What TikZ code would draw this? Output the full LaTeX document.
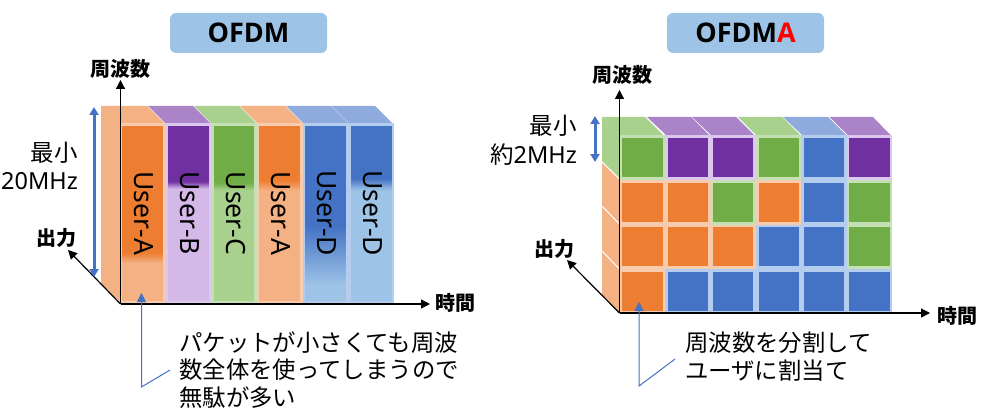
\documentclass[tikz,border=0pt]{standalone}
\usepackage{graphicx}
\usepackage{fontspec}
\setmainfont{Noto Sans}
\newfontfamily\jpfont{Noto Sans CJK JP}
\newfontfamily\titlefont{Open Sans}
\usetikzlibrary{arrows.meta}

\definecolor{orangedark}{HTML}{ED7D31}
\definecolor{orangelight}{HTML}{F4B183}
\definecolor{orangeedge}{HTML}{F8CBAD}
\definecolor{purpledark}{HTML}{7030A0}
\definecolor{purpletop}{HTML}{AB83C8}
\definecolor{purplelight}{HTML}{D4B8E8}
\definecolor{purpleedge}{HTML}{DCC8EC}
\definecolor{greendark}{HTML}{70AD47}
\definecolor{greenlight}{HTML}{A9D18E}
\definecolor{greenedge}{HTML}{C5E0B4}
\definecolor{bluedark}{HTML}{4472C4}
\definecolor{bluetop}{HTML}{8FAADC}
\definecolor{bluelight}{HTML}{9DC3E6}
\definecolor{blueedge}{HTML}{B4CDEE}

% the column is mapped on 25bp..75bp of the shading
\pgfdeclareverticalshading{fadeUserA}{100bp}{color(0bp)=(orangelight); color(36bp)=(orangelight); color(38.8bp)=(orangedark); color(100bp)=(orangedark)}
\pgfdeclareverticalshading{fadeUserAb}{100bp}{color(0bp)=(orangelight); color(56.5bp)=(orangelight); color(59.3bp)=(orangedark); color(100bp)=(orangedark)}
\pgfdeclareverticalshading{fadeUserB}{100bp}{color(0bp)=(purplelight); color(57bp)=(purplelight); color(59bp)=(purpledark); color(100bp)=(purpledark)}
\pgfdeclareverticalshading{fadeUserC}{100bp}{color(0bp)=(greenlight); color(56.5bp)=(greenlight); color(58.7bp)=(greendark); color(100bp)=(greendark)}
\pgfdeclareverticalshading{fadeUserD}{100bp}{color(0bp)=(bluelight); color(29.8bp)=(bluelight); color(46.6bp)=(bluedark); color(100bp)=(bluedark)}
\pgfdeclareverticalshading{fadeUserDb}{100bp}{color(0bp)=(bluelight); color(56.5bp)=(bluelight); color(59.8bp)=(bluedark); color(100bp)=(bluedark)}

\newcommand{\usertext}[1]{\hspace{3pt}\rotatebox{-90}{#1}}

\tikzset{
	x=1pt,y=-1pt,
	titlebox/.style={fill=bluelight,rounded corners=6pt,minimum width=157pt,minimum height=40pt,inner sep=0pt,font=\fontsize{27}{30}\selectfont\titlefont\bfseries},
	usercol/.style={anchor=north west,minimum width=43.3pt,minimum height=177pt,inner sep=0pt,line width=2.5pt,shade,shading angle=0,font=\fontsize{26.5}{30}\selectfont},
	cellbox/.style={anchor=north west,minimum width=42.8pt,minimum height=41.9pt,inner sep=0pt,line width=2.6pt,draw},
	orangecell/.style={cellbox,fill=orangedark,draw=orangeedge},
	purplecell/.style={cellbox,fill=purpledark,draw=purpleedge},
	greencell/.style={cellbox,fill=greendark,draw=greenedge},
	bluecell/.style={cellbox,fill=bluedark,draw=blueedge},
	axislabel/.style={inner sep=0pt,font=\fontsize{20}{24}\selectfont\jpfont\bfseries},
	sizelabel/.style={inner sep=0pt,anchor=east,font=\fontsize{23.5}{26}\selectfont},
	notelabel/.style={inner sep=0pt,anchor=west,align=left,font=\fontsize{23.4}{27.5}\selectfont\jpfont},
	axisline/.style={line width=1.2pt,-{Triangle[length=9pt,width=9pt]}},
	sizearrow/.style={draw=bluedark,line width=3pt,{Triangle[length=8pt,width=9pt]}-{Triangle[length=8pt,width=9pt]}},
	noteline/.style={draw=bluedark,line width=1pt,-{Triangle[length=9pt,width=9pt]}}
}

\begin{document}
\begin{tikzpicture}
	\useasboundingbox (0,0) rectangle (982,417);
	% titles
	\node[titlebox] (titleL) at (248.5,33) {OFDM};
	\node[titlebox] (titleR) at (745.5,33) {OFDM\textcolor{red}{A}};

	% OFDM: side and top faces
	\fill[orangelight] (101,106) -- (120,124) -- (120,302) -- (101,284) -- cycle;
	\fill[orangelight] (101,106) -- (147,106) -- (165,124) -- (120,124) -- cycle;
	\fill[purpletop] (148,106) -- (193,106) -- (211,124) -- (166,124) -- cycle;
	\fill[greenlight] (194,106) -- (239,106) -- (257,124) -- (212,124) -- cycle;
	\fill[orangelight] (240,106) -- (285,106) -- (303,124) -- (258,124) -- cycle;
	\fill[bluetop] (286,106) -- (331,106) -- (349,124) -- (304,124) -- cycle;
	\fill[bluetop] (331.5,106) -- (375,106) -- (393,124) -- (349.5,124) -- cycle;
	% OFDM: columns
	\node[usercol,shading=fadeUserA,draw=orangeedge] (colA) at (119.5,123.5) {\usertext{User-A}};
	\node[usercol,shading=fadeUserB,draw=purpleedge] (colB) at (165.3,123.5) {\usertext{User-B}};
	\node[usercol,shading=fadeUserC,draw=greenedge] (colC) at (211.1,123.5) {\usertext{User-C}};
	\node[usercol,shading=fadeUserAb,draw=orangeedge] (colAb) at (256.9,123.5) {\usertext{User-A}};
	\node[usercol,shading=fadeUserD,draw=blueedge] (colD) at (302.7,123.5) {\usertext{User-D}};
	\node[usercol,shading=fadeUserDb,draw=blueedge] (colDb) at (348.5,123.5) {\usertext{User-D}};
	% OFDM: axes
	\coordinate (originL) at (120.5,304);
	\coordinate (freqL) at (120.5,80);
	\coordinate (timeL) at (430,304);
	\coordinate (powerL) at (68,250);
	\draw[axisline] (originL) -- (freqL);
	\draw[axisline] (originL) -- (timeL);
	\draw[axisline] (originL) -- (powerL);
	\node[axislabel] (freqTextL) at (120,69) {周波数};
	\node[axislabel] (timeTextL) at (455.5,303) {時間};
	\node[axislabel,anchor=east] (powerTextL) at (77,238) {出力};
	% OFDM: size and note
	\coordinate (sizeTopL) at (94,107);
	\coordinate (sizeBotL) at (94,277);
	\draw[sizearrow] (sizeTopL) -- (sizeBotL);
	\node[sizelabel] (minTextL) at (78,153) {\jpfont 最小};
	\node[sizelabel] (bandTextL) at (78,181) {20MHz};
	\coordinate (noteTipL) at (141.5,293);
	\coordinate (noteBendL) at (141.5,387);
	\coordinate (noteEndL) at (170,370);
	\draw[noteline] (noteEndL) -- (noteBendL) -- (noteTipL);
	\node[notelabel] (noteTextL) at (179,370) {パケットが小さくても周波\\数全体を使ってしまうので\\無駄が多い};

	% OFDMA: side and top faces
	\fill[greenlight] (602,117) -- (619.5,135) -- (619.5,178) -- (602,161) -- cycle;
	\fill[orangelight] (602,163) -- (619.5,180) -- (619.5,313) -- (602,295) -- cycle;
	\draw[white,line width=1pt] (602,206) -- (619.5,224);
	\draw[white,line width=1pt] (602,251) -- (619.5,269);
	\fill[greenlight] (602,117) -- (645,117) -- (663,135) -- (619.5,135) -- cycle;
	\fill[purpletop] (647,117) -- (691,117) -- (709,135) -- (666,135) -- cycle;
	\fill[purpletop] (692,117) -- (736,117) -- (754,135) -- (711,135) -- cycle;
	\fill[greenlight] (738,117) -- (782,117) -- (800,135) -- (756,135) -- cycle;
	\fill[bluetop] (783,117) -- (828,117) -- (846,135) -- (802,135) -- cycle;
	\fill[purpletop] (829.5,117) -- (873,117) -- (890.5,135) -- (847.5,135) -- cycle;
	% OFDMA: cells
	\node[greencell] (cellAa) at (619.8,135.5) {};
	\node[purplecell] (cellAb) at (665.2,135.5) {};
	\node[purplecell] (cellAc) at (710.6,135.5) {};
	\node[greencell] (cellAd) at (756,135.5) {};
	\node[bluecell] (cellAe) at (801.4,135.5) {};
	\node[purplecell] (cellAf) at (846.8,135.5) {};
	\node[orangecell] (cellBa) at (619.8,180) {};
	\node[orangecell] (cellBb) at (665.2,180) {};
	\node[greencell] (cellBc) at (710.6,180) {};
	\node[orangecell] (cellBd) at (756,180) {};
	\node[bluecell] (cellBe) at (801.4,180) {};
	\node[greencell] (cellBf) at (846.8,180) {};
	\node[orangecell] (cellCa) at (619.8,224.5) {};
	\node[orangecell] (cellCb) at (665.2,224.5) {};
	\node[orangecell] (cellCc) at (710.6,224.5) {};
	\node[bluecell] (cellCd) at (756,224.5) {};
	\node[bluecell] (cellCe) at (801.4,224.5) {};
	\node[greencell] (cellCf) at (846.8,224.5) {};
	\node[orangecell] (cellDa) at (619.8,269) {};
	\node[bluecell] (cellDb) at (665.2,269) {};
	\node[bluecell] (cellDc) at (710.6,269) {};
	\node[bluecell] (cellDd) at (756,269) {};
	\node[bluecell] (cellDe) at (801.4,269) {};
	\node[bluecell] (cellDf) at (846.8,269) {};
	% OFDMA: axes
	\coordinate (originR) at (619.5,313);
	\coordinate (freqR) at (619.5,90);
	\coordinate (timeR) at (930,313);
	\coordinate (powerR) at (567,260);
	\draw[axisline] (originR) -- (freqR);
	\draw[axisline] (originR) -- (timeR);
	\draw[axisline] (originR) -- (powerR);
	\node[axislabel] (freqTextR) at (622,75) {周波数};
	\node[axislabel] (timeTextR) at (957,316) {時間};
	\node[axislabel,anchor=east] (powerTextR) at (575,249) {出力};
	% OFDMA: size and note
	\coordinate (sizeTopR) at (595,116);
	\coordinate (sizeBotR) at (595,162);
	\draw[sizearrow] (sizeTopR) -- (sizeBotR);
	\node[sizelabel] (minTextR) at (577,126) {\jpfont 最小};
	\node[sizelabel] (bandTextR) at (577,155) {{\jpfont 約}2MHz};
	\coordinate (noteTipR) at (639,302);
	\coordinate (noteBendR) at (639,386);
	\coordinate (noteEndR) at (675,359);
	\draw[noteline] (noteEndR) -- (noteBendR) -- (noteTipR);
	\node[notelabel] (noteTextR) at (685,356.5) {周波数を分割して\\ユーザに割当て};
\end{tikzpicture}
\end{document}
